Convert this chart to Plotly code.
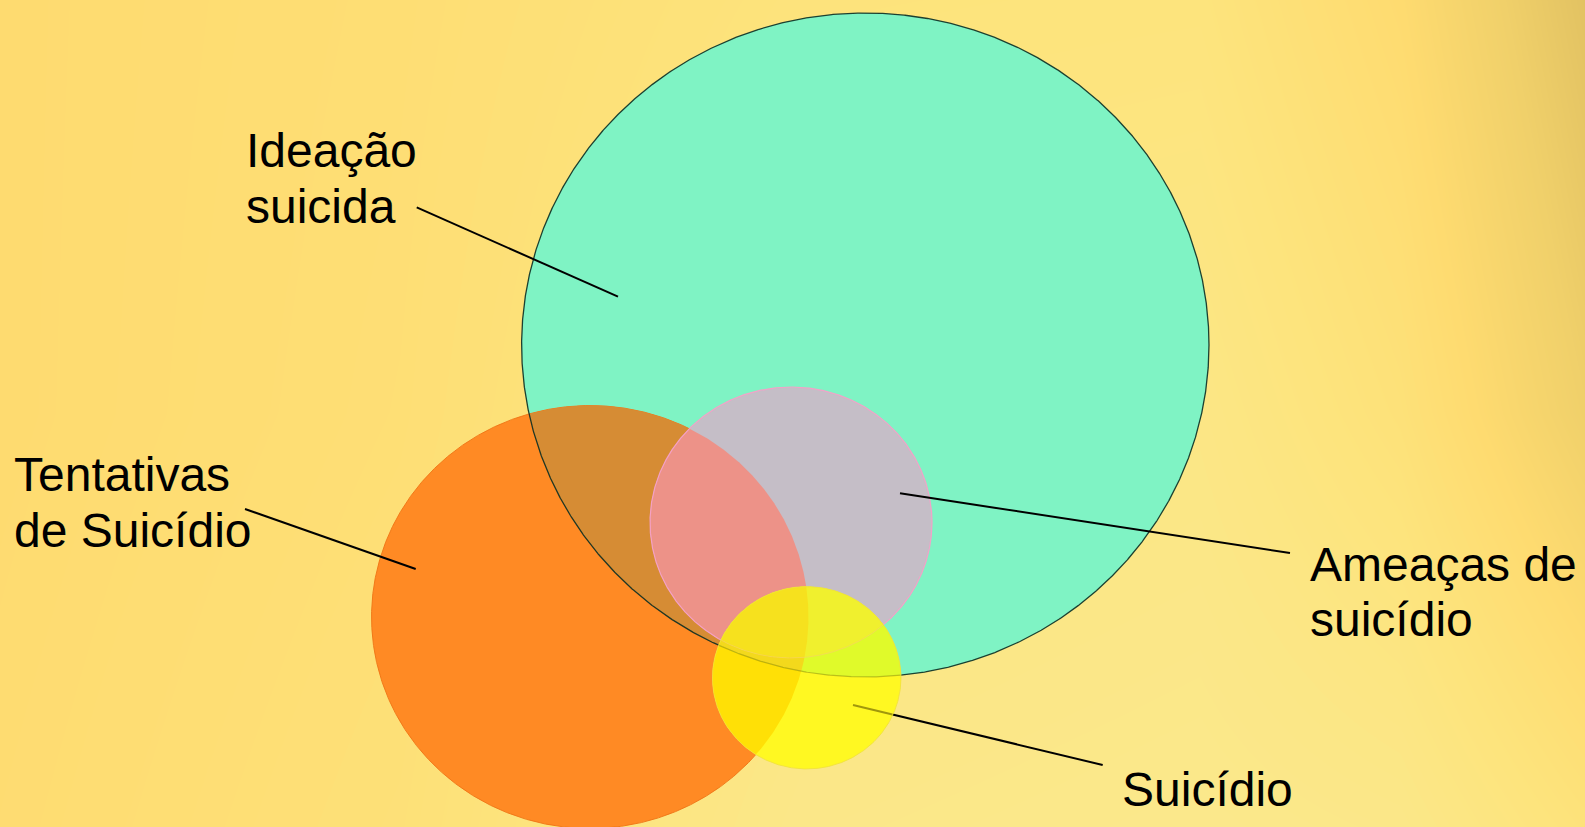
import numpy as np
import plotly.graph_objects as go

# ---- data: the four sets of the diagram (ellipse centre / radii in pixel units) ----
set_names = ["Ideação suicida", "Tentativas de Suicídio", "Ameaças de suicídio", "Suicídio"]
set_cx = [865.3, 590.0, 791.0, 806.7]
set_cy = [345.0, 617.0, 522.5, 677.8]
set_rx = [343.7, 218.5, 141.0, 94.3]
set_ry = [332.0, 211.5, 135.5, 91.2]

# regions (intersections) and their colours, drawn in this order
region_sets = [[0], [1], [0, 1], [2], [2, 1], [3], [3, 1], [3, 0], [3, 0, 1], [3, 2], [3, 2, 1]]
region_colors = ["#7FF3C4", "#FF8A24", "#D68C34", "#C5BEC7", "#ED9288",
                 "#FFF822", "#FFE006", "#E0FA2A", "#F3D91C", "#F0F02E", "#F6E11E"]

# labels: text lines, left x, baselines
label_lines = [["Ideação", "suicida"], ["Tentativas", "de Suicídio"],
               ["Ameaças de", "suicídio"], ["Suicídio"]]
label_x = [244.0, 11.5, 1308.0, 1120.0]
label_baselines = [[167.0, 223.0], [491.0, 547.5], [581.0, 636.5], [806.0]]

# leader lines: (x0, y0) at label, (x1, y1) inside set
leader_x0 = [416.7, 245.0, 1290.0, 1102.7]
leader_y0 = [207.3, 509.0, 553.0, 765.0]
leader_x1 = [618.0, 415.7, 900.0, 853.0]
leader_y1 = [296.7, 569.0, 493.3, 705.0]

# background gradient (scalar field -> colour path)
bg_x = [0, 400, 800, 1200, 1400, 1585]
bg_y = [0, 413, 827]
bg_z = [[0.55, 0.47, 0.32, 0.30, 0.55, 1.00],
        [0.55, 0.45, 0.22, 0.16, 0.38, 0.80],
        [0.52, 0.40, 0.10, 0.05, 0.10, 0.35]]
bg_scale = [[0.0, "rgb(250,233,142)"], [0.3, "rgb(253,228,125)"],
            [0.55, "rgb(254,219,112)"], [0.8, "rgb(240,208,106)"], [1.0, "rgb(226,194,98)"]]

W, H = 1585, 827
N = 1440


def ell_pts(i, n=N):
    t = np.linspace(0, 2 * np.pi, n, endpoint=False)
    return set_cx[i] + set_rx[i] * np.cos(t), set_cy[i] + set_ry[i] * np.sin(t)


def inside(i, x, y):
    return ((x - set_cx[i]) / set_rx[i]) ** 2 + ((y - set_cy[i]) / set_ry[i]) ** 2 <= 1.0 + 1e-9


def intersection(idxs):
    xs, ys = [], []
    for i in idxs:
        x, y = ell_pts(i)
        m = np.ones_like(x, dtype=bool)
        for j in idxs:
            if j != i:
                m &= inside(j, x, y)
        xs.append(x[m]); ys.append(y[m])
    x = np.concatenate(xs); y = np.concatenate(ys)
    if len(x) < 3:
        return None, None
    cxm, cym = x.mean(), y.mean()
    order = np.argsort(np.arctan2(y - cym, x - cxm))
    x = x[order]; y = y[order]
    return np.append(x, x[0]), np.append(y, y[0])


fig = go.Figure()
fig.add_trace(go.Heatmap(x=bg_x, y=bg_y, z=bg_z, colorscale=bg_scale, zmin=0, zmax=1,
                         zsmooth="best", showscale=False, hoverinfo="skip"))


def add_region(k):
    x, y = intersection(region_sets[k])
    if x is None:
        return
    fig.add_trace(go.Scatter(x=x, y=y, mode="lines", fill="toself",
                             fillcolor=region_colors[k], line=dict(width=0, color=region_colors[k]),
                             hoverinfo="skip", showlegend=False))


def add_outline(i, color, width, mask_set=None):
    x, y = ell_pts(i, 2000)
    x = np.append(x, x[0]); y = np.append(y, y[0])
    if mask_set is not None:
        m = inside(mask_set, x, y)
        x = np.where(m, x, np.nan); y = np.where(m, y, np.nan)
    fig.add_trace(go.Scatter(x=x, y=y, mode="lines", line=dict(color=color, width=width),
                             hoverinfo="skip", showlegend=False))


# green, orange, overlap
add_region(0)
add_region(1)
add_outline(1, "rgba(240,115,20,0.9)", 1)
add_region(2)
# pink
add_region(3)
add_region(4)
add_outline(2, "rgba(245,160,200,0.95)", 1.2)
add_outline(0, "rgba(10,45,35,0.9)", 1.3)
# Suicídio leader line sits under the yellow set
fig.add_trace(go.Scatter(x=[leader_x0[3], leader_x1[3]], y=[leader_y0[3], leader_y1[3]],
                         mode="lines", line=dict(color="black", width=2),
                         hoverinfo="skip", showlegend=False))
# yellow
for k in range(5, len(region_sets)):
    add_region(k)
add_outline(0, "rgba(90,90,0,0.35)", 1.2, mask_set=3)
add_outline(2, "rgba(250,200,120,0.5)", 1, mask_set=3)
add_outline(3, "rgba(240,225,60,0.8)", 1)

# faint leader segment visible through the yellow set
tt = np.linspace(0, 1, 400)
lx = leader_x1[3] + (leader_x0[3] - leader_x1[3]) * tt
ly = leader_y1[3] + (leader_y0[3] - leader_y1[3]) * tt
m = inside(3, lx, ly)
fig.add_trace(go.Scatter(x=lx[m], y=ly[m], mode="lines", line=dict(color="rgba(150,140,10,0.9)", width=2),
                         hoverinfo="skip", showlegend=False))

# other leader lines on top
for i in range(3):
    fig.add_trace(go.Scatter(x=[leader_x0[i], leader_x1[i]], y=[leader_y0[i], leader_y1[i]],
                             mode="lines", line=dict(color="black", width=2),
                             hoverinfo="skip", showlegend=False))

FS = 48
for lines, lx0, bls in zip(label_lines, label_x, label_baselines):
    for txt, bl in zip(lines, bls):
        fig.add_annotation(x=lx0, y=bl - 0.3465 * FS, text=txt, showarrow=False,
                           xanchor="left", yanchor="middle", xref="x", yref="y",
                           font=dict(family="Liberation Sans", size=FS, color="black"))

fig.update_layout(width=W, height=H, margin=dict(l=0, r=0, t=0, b=0),
                  paper_bgcolor="#FDE07A", plot_bgcolor="#FDE07A", showlegend=False,
                  xaxis=dict(range=[0, W], visible=False, fixedrange=True),
                  yaxis=dict(range=[H, 0], visible=False, fixedrange=True))

fig.write_html("out.html", config={"displayModeBar": False},
               post_script="document.body.style.margin='0';document.body.style.overflow='hidden';")
